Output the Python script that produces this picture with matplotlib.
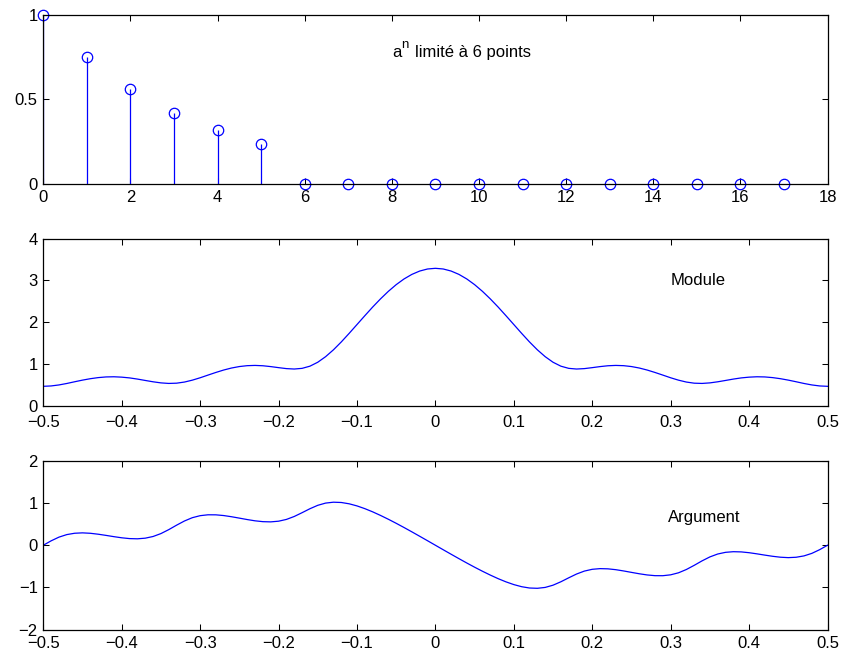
import numpy as np
import matplotlib
matplotlib.use('Agg')
import matplotlib.pyplot as plt
from matplotlib.transforms import offset_copy

plt.rcParams['font.family'] = ['Liberation Sans', 'DejaVu Sans']
plt.rcParams['font.size'] = 12

# ---- data ----
n_idx = list(range(18))
seq_vals = [1.0000, 0.7500, 0.5625, 0.4219, 0.3164, 0.2373,
            0, 0, 0, 0, 0, 0, 0, 0, 0, 0, 0, 0]

freq = np.linspace(-0.5, 0.5, 101)
mod_half = [0.470, 0.479, 0.503, 0.538, 0.579, 0.618, 0.652, 0.678, 0.694, 0.698,
            0.689, 0.671, 0.643, 0.610, 0.578, 0.552, 0.539, 0.545, 0.572, 0.617,
            0.674, 0.738, 0.801, 0.859, 0.907, 0.942, 0.963, 0.969, 0.961, 0.941,
            0.916, 0.893, 0.883, 0.899, 0.951, 1.045, 1.178, 1.342, 1.530, 1.734,
            1.945, 2.156, 2.363, 2.558, 2.738, 2.898, 3.034, 3.143, 3.223, 3.272]
module = mod_half + [3.288] + mod_half[::-1]

argument = [0.000, 0.105, 0.193, 0.253, 0.285, 0.294, 0.284, 0.262, 0.234, 0.204,
            0.177, 0.158, 0.153, 0.168, 0.208, 0.277, 0.371, 0.477, 0.576, 0.654,
            0.702, 0.723, 0.722, 0.705, 0.677, 0.644, 0.610, 0.580, 0.560, 0.555,
            0.571, 0.613, 0.683, 0.773, 0.867, 0.948, 1.001, 1.022, 1.015, 0.984,
            0.934, 0.869, 0.793, 0.708, 0.617, 0.521, 0.421, 0.318, 0.213, 0.107,
            0.000, -0.107, -0.213, -0.318, -0.421, -0.521, -0.617, -0.708, -0.793, -0.869,
            -0.934, -0.984, -1.015, -1.022, -1.001, -0.948, -0.867, -0.773, -0.683, -0.613,
            -0.571, -0.555, -0.560, -0.580, -0.610, -0.644, -0.677, -0.705, -0.722, -0.723,
            -0.702, -0.654, -0.576, -0.477, -0.371, -0.277, -0.208, -0.168, -0.153, -0.158,
            -0.177, -0.204, -0.234, -0.262, -0.284, -0.294, -0.285, -0.253, -0.193, -0.105,
            0.000]

x1_ticks = [0, 2, 4, 6, 8, 10, 12, 14, 16, 18]
y1_ticks = [0, 0.5, 1]
f_ticks = [-0.5, -0.4, -0.3, -0.2, -0.1, 0, 0.1, 0.2, 0.3, 0.4, 0.5]
f_labels = ['\u22120.5', '\u22120.4', '\u22120.3', '\u22120.2', '\u22120.1', '0',
            '0.1', '0.2', '0.3', '0.4', '0.5']
y2_ticks = [0, 1, 2, 3, 4]
y3_ticks = [-2, -1, 0, 1, 2]
y3_labels = ['\u22122', '\u22121', '0', '1', '2']

W, H = 841, 655
fig = plt.figure(figsize=(W / 100, H / 100), dpi=100)

left = 43.3 / W
width = (827.5 - 43.3) / W

def mk_ax(top, bottom, xpad):
    ax = fig.add_axes([left, 1 - bottom / H, width, (bottom - top) / H])
    ax.tick_params(direction='in', length=4, width=0.75, top=True, right=True,
                   labelsize=12, colors='black')
    ax.tick_params(axis='x', pad=xpad)
    ax.tick_params(axis='y', pad=4)
    for s in ax.spines.values():
        s.set_linewidth(0.9)
    return ax

blue = (0, 0, 1)

ax1 = mk_ax(15.3, 183.5, 5)
ml, sl, bl = ax1.stem(n_idx, seq_vals, linefmt='-', markerfmt='o', basefmt=' ')
plt.setp(sl, color=blue, linewidth=0.9)
plt.setp(ml, markerfacecolor='none', markeredgecolor=blue, markersize=7.5,
         markeredgewidth=0.9, clip_on=False)
ax1.set_xlim(0, 18)
ax1.set_ylim(0, 1)
ax1.set_xticks(x1_ticks)
ax1.set_yticks(y1_ticks)
ax1.set_yticklabels(['0', '0.5', '1'])
tx, ty = 8.0, 0.78
ax1.text(tx, ty, 'a', fontsize=12, va='center', ha='left')
ax1.text(tx, ty, 'n', fontsize=9.5, va='center', ha='left',
         transform=offset_copy(ax1.transData, fig=fig, x=7.0, y=5.5, units='points'))
ax1.text(tx, ty, 'limité à 6 points', fontsize=12, va='center', ha='left',
         transform=offset_copy(ax1.transData, fig=fig, x=16.5, y=0, units='points'))

ax2 = mk_ax(238.5, 406, 6.5)
ax2.plot(freq, module, color=blue, linewidth=0.9)
ax2.set_xlim(-0.5, 0.5)
ax2.set_ylim(0, 4)
ax2.set_xticks(f_ticks)
ax2.set_xticklabels(f_labels)
ax2.set_yticks(y2_ticks)
ax2.text(0.3, 3.0, 'Module', fontsize=12, va='center', ha='left')

ax3 = mk_ax(461, 629.5, 5)
ax3.plot(freq, argument, color=blue, linewidth=0.9)
ax3.set_xlim(-0.5, 0.5)
ax3.set_ylim(-2, 2)
ax3.set_xticks(f_ticks)
ax3.set_xticklabels(f_labels)
ax3.set_yticks(y3_ticks)
ax3.set_yticklabels(y3_labels)
ax3.text(0.296, 0.65, 'Argument', fontsize=12, va='center', ha='left')

fig.savefig('out.png', dpi=100)
